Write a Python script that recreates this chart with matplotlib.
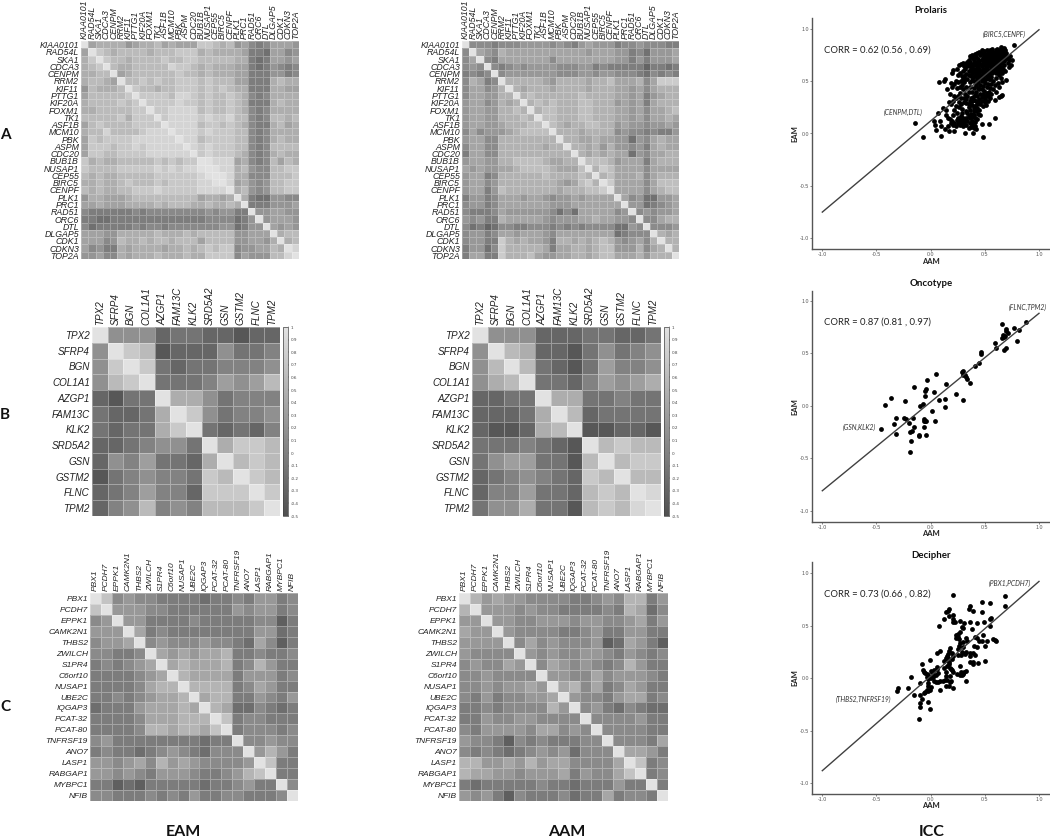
import matplotlib
matplotlib.use("Agg")
import matplotlib.pyplot as plt
import numpy as np
from matplotlib.colors import LinearSegmentedColormap

W, H = 1050, 838

genes_a = ["KIAA0101","RAD54L","SKA1","CDCA3","CENPM","RRM2","KIF11","PTTG1","KIF20A","FOXM1","TK1","ASF1B","MCM10","PBK","ASPM","CDC20","BUB1B","NUSAP1","CEP55","BIRC5","CENPF","PLK1","PRC1","RAD51","ORC6","DTL","DLGAP5","CDK1","CDKN3","TOP2A"]
genes_b = ["TPX2","SFRP4","BGN","COL1A1","AZGP1","FAM13C","KLK2","SRD5A2","GSN","GSTM2","FLNC","TPM2"]
genes_c = ["PBX1","PCDH7","EPPK1","CAMK2N1","THBS2","ZWILCH","S1PR4","C6orf10","NUSAP1","UBE2C","IQGAP3","PCAT-32","PCAT-80","TNFRSF19","ANO7","LASP1","RABGAP1","MYBPC1","NFIB"]

# Upper triangles of the correlation matrices, read as shade levels 0 (dark) to 9 (light)
a_eam = ["4555534556 4544477656 342124443","765666656 6677756555 541104423","76656666 7667766666 551014434","6556666 6877656555 441013212","456666 6676656555 441113312","66767 6677767666 441115655","7665 6677767676 551115544","777 7688767667 652125555","77 7787767667 651115655","7 7888867667 652125555","7888878778 662126656","888867767 652115645","88878777 662125555","8867777 662125655","878777 662126666","78777 652125655","9888 452126465","988 563226677","98 552226667","8 453236677","563236677","51003322","1113334","334433","34443","4343","566","56","8"]
a_aam = ["3332333444 4343245444 233433322","543655555 5555554555 442314445","32555555 5355555555 442424445","3234344 4433344232 222202212","344444 4433344344 333213232","66666 5466665667 555635888","6566 6566665666 554535666","676 6666676666 554524566","67 6766677666 454525666","6 7766677666 554535567","7766677666 554535565","765667766 454434454","66656666 343323224","6655655 441435655","665646 443425655","65656 551435566","7776 455525666","687 555535555","67 555635666","8 555535777","555535677","53411445","4412345","343445","33566","3334","656","66","6"]
b_eam = ["44412211011","8701114223","821223334","22235457","6642333","842334","21213","6887","787","87","8"]
b_aam = ["44411122112","7611024234","721025334","22135456","6622322","712222","00110","7877","788","77","9"]
c_eam = ["734332222122324423","44433222222434423","4422223222223302","523222222224412","34333433215302","5454556223223","565556236422","65555244423","6666235422","566224324","65113212","7233222","233323","33433","4642","722","22","3"]
c_aam = ["645443333223436624","44434332222326513","4433444344334524","433332234224422","35343334015420","4343344324323","354343236422","44335344432","5635235422","433245523","34213211","3333422","333322","33325","5542","723","23","2"]

# Scatter points
prolaris = [(-0.14,0.10),(-0.075,-0.03),(0.03,0.12),(0.04,0.08),(0.05,0.03),(0.10,-0.02),(0.09,0.12),(0.10,0.07),(0.13,0.04),(0.17,0.02),(0.215,0.02),(0.16,0.07),(0.19,0.10),(0.21,0.08),(0.23,0.07),(0.25,0.10),(0.32,0.0),(0.33,0.08),(0.36,0.10),(0.35,0.05),(0.39,0.0),(0.40,0.05),(0.41,0.07),(0.47,0.09),(0.48,-0.03),(0.54,0.09),(0.59,0.15),(0.07,0.20),(0.11,0.24),(0.14,0.22),(0.14,0.18),(0.16,0.15),(0.18,0.14),(0.21,0.18),(0.24,0.20),(0.20,0.12),(0.24,0.13),(0.27,0.14),(0.30,0.15),(0.27,0.12),(0.29,0.12),(0.31,0.11),(0.33,0.15),(0.36,0.15),(0.38,0.16),(0.41,0.15),(0.43,0.14),(0.46,0.18),(0.38,0.12),(0.41,0.11),(0.44,0.19),(0.40,0.21),(0.36,0.22),(0.29,0.20),(0.29,0.23),(0.35,0.25),(0.40,0.24),(0.45,0.22),(0.48,0.26),(0.50,0.30),(0.46,0.28),(0.43,0.28),(0.38,0.27),(0.35,0.28),(0.36,0.31),(0.33,0.29),(0.26,0.30),(0.19,0.28),(0.17,0.30),(0.21,0.31),(0.23,0.34),(0.25,0.36),(0.28,0.34),(0.31,0.34),(0.37,0.34),(0.40,0.32),(0.42,0.31),(0.45,0.33),(0.47,0.35),(0.50,0.33),(0.53,0.36),(0.56,0.38),(0.52,0.39),(0.59,0.32),(0.63,0.35),(0.66,0.37),(0.65,0.36),(0.70,0.51),(0.74,0.65),(0.75,0.70),(0.77,0.84),(0.73,0.74),
(0.08,0.49),(0.12,0.50),(0.13,0.52),(0.15,0.42),(0.19,0.48),(0.20,0.44),(0.20,0.58),(0.21,0.61),(0.23,0.50),(0.25,0.49),(0.27,0.44),(0.24,0.43),(0.29,0.46),(0.31,0.49),(0.33,0.44),(0.32,0.38),(0.35,0.40),(0.38,0.40),(0.40,0.43),(0.42,0.40),(0.45,0.42),(0.48,0.45),(0.52,0.44),(0.56,0.47),(0.59,0.46),(0.62,0.48),(0.66,0.49),(0.26,0.65),(0.28,0.66),(0.30,0.67),(0.27,0.58),(0.29,0.55),(0.30,0.60),(0.32,0.62),(0.34,0.64),(0.36,0.68),(0.37,0.73),(0.38,0.75),(0.35,0.70),(0.33,0.57),(0.34,0.52),(0.36,0.49),(0.37,0.55),(0.38,0.58),(0.40,0.62),(0.39,0.66),(0.41,0.68),(0.42,0.65),(0.43,0.60),(0.41,0.55),(0.40,0.50),(0.43,0.52),(0.45,0.56),(0.44,0.49),(0.46,0.46),(0.47,0.50),(0.48,0.54),(0.46,0.60),(0.47,0.64),(0.45,0.69),(0.46,0.75),(0.48,0.72),(0.49,0.68),(0.50,0.62),(0.50,0.57),(0.51,0.52),(0.50,0.48),(0.53,0.47),(0.54,0.52),(0.53,0.58),(0.52,0.63),(0.53,0.68),(0.51,0.73),(0.50,0.76),(0.52,0.80),(0.55,0.80),(0.54,0.76),(0.55,0.72),(0.56,0.68),(0.56,0.63),(0.57,0.58),(0.56,0.54),(0.58,0.50),(0.60,0.53),(0.60,0.58),(0.59,0.62),(0.58,0.66),(0.59,0.70),(0.58,0.74),(0.58,0.78),(0.60,0.76),(0.62,0.80),(0.61,0.73),(0.62,0.69),(0.62,0.65),(0.63,0.60),(0.63,0.56),(0.65,0.53),(0.66,0.58),(0.65,0.63),(0.65,0.67),(0.65,0.71),(0.65,0.75),(0.65,0.83),(0.68,0.82),(0.67,0.78),(0.68,0.74),(0.68,0.69),(0.68,0.65),(0.69,0.60),(0.71,0.67),(0.71,0.72),(0.70,0.77),(0.47,0.70),(0.49,0.74),(0.52,0.76),(0.52,0.70),(0.54,0.66),(0.55,0.60),(0.57,0.71),(0.57,0.75),(0.60,0.67),(0.60,0.72),(0.63,0.72),(0.63,0.77),(0.64,0.79),(0.61,0.62),(0.44,0.71),(0.42,0.73),(0.40,0.70),(0.37,0.62),(0.31,0.55),(0.28,0.50),(0.22,0.47),(0.18,0.38),(0.22,0.36),(0.27,0.39),(0.30,0.42),(0.36,0.44),(0.42,0.46),(0.49,0.41),(0.55,0.43),(0.46,0.38),(0.51,0.36),(0.39,0.35),(0.33,0.33),(0.43,0.36),(0.55,0.52),(0.57,0.64),(0.49,0.60),(0.44,0.63),(0.41,0.59),(0.35,0.60),(0.33,0.66),(0.38,0.51),(0.25,0.56),(0.24,0.62),
(0.44,0.58),(0.45,0.62),(0.46,0.66),(0.48,0.58),(0.48,0.62),(0.48,0.66),(0.50,0.65),(0.50,0.70),(0.51,0.60),(0.51,0.67),(0.53,0.61),(0.53,0.65),(0.53,0.71),(0.54,0.74),(0.54,0.78),(0.56,0.78),(0.56,0.74),(0.56,0.70),(0.56,0.66),(0.57,0.61),(0.58,0.69),(0.58,0.72),(0.58,0.60),(0.59,0.65),(0.59,0.76),(0.60,0.80),(0.60,0.64),(0.61,0.69),(0.61,0.77),(0.62,0.74),(0.62,0.60),(0.63,0.67),(0.63,0.63),(0.64,0.70),(0.64,0.74),(0.64,0.60),(0.66,0.69),(0.66,0.73),(0.66,0.77),(0.67,0.62),(0.67,0.71),(0.69,0.71),(0.69,0.76),(0.69,0.80),(0.72,0.70),(0.72,0.63),(0.47,0.56),(0.46,0.53),(0.49,0.51),(0.52,0.55),(0.54,0.56),(0.43,0.67),(0.42,0.62),(0.42,0.57),(0.40,0.66),(0.39,0.61),(0.38,0.63),(0.36,0.64),(0.35,0.66),(0.34,0.68),(0.32,0.66),(0.31,0.64),(0.30,0.52),(0.32,0.52),(0.35,0.56),(0.39,0.54),(0.44,0.55),(0.36,0.74),(0.39,0.72),(0.41,0.76),(0.43,0.77),(0.45,0.78),(0.49,0.79),(0.47,0.77),(0.47,0.80),(0.57,0.81),(0.61,0.81),(0.66,0.81),
(0.22,0.10),(0.25,0.15),(0.28,0.17),(0.30,0.10),(0.32,0.13),(0.34,0.12),(0.35,0.17),(0.37,0.19),(0.39,0.18),(0.40,0.18),(0.42,0.21),(0.43,0.24),(0.41,0.26),(0.44,0.30),(0.47,0.31),(0.49,0.36),(0.48,0.38),(0.47,0.42),(0.44,0.43),(0.41,0.37),(0.38,0.31),(0.34,0.36),(0.31,0.30),(0.28,0.28),(0.26,0.25),(0.23,0.26),(0.22,0.22),(0.51,0.27),(0.53,0.31),(0.55,0.34),(0.54,0.40),(0.58,0.42),(0.60,0.40),(0.63,0.44),(0.34,0.20),(0.33,0.21),(0.37,0.06),(0.42,0.04),(0.38,0.09),(0.30,0.07),(0.27,0.08)]

oncotype = [(0.88,0.80),(0.82,0.72),(0.77,0.74),(0.80,0.62),(0.66,0.78),(0.70,0.73),(0.70,0.71),(0.71,0.69),(0.67,0.67),(0.66,0.64),(0.68,0.65),(0.69,0.66),(0.70,0.55),(0.675,0.53),(0.595,0.60),(0.60,0.55),(0.465,0.51),(0.465,0.49),(0.45,0.41),(0.41,0.38),(0.29,0.32),(0.30,0.33),(0.30,0.29),(0.32,0.29),(0.33,0.27),(0.335,0.25),(0.36,0.22),(0.30,0.05),(0.235,0.11),(0.14,0.21),(0.05,0.30),(-0.03,0.24),(-0.15,0.18),(-0.045,0.16),(-0.05,0.14),(-0.05,0.09),(0.035,0.13),(0.08,0.05),(0.13,0.06),(0.135,-0.01),(-0.37,0.07),(-0.42,0.01),(-0.24,0.04),(-0.10,0.0),(-0.07,0.02),(0.01,-0.05),(-0.32,-0.12),(-0.25,-0.12),(-0.23,-0.13),(-0.16,-0.12),(-0.06,-0.13),(-0.05,-0.15),(-0.06,-0.15),(-0.045,-0.15),(0.04,-0.15),(-0.34,-0.17),(-0.20,-0.165),(-0.46,-0.225),(-0.15,-0.20),(-0.065,-0.20),(-0.32,-0.27),(-0.19,-0.25),(-0.175,-0.24),(-0.11,-0.28),(-0.11,-0.29),(-0.04,-0.28),(-0.18,-0.34),(-0.195,-0.44)]

decipher = [(0.21,0.79),(0.69,0.78),(0.69,0.69),(0.47,0.725),(0.55,0.71),(0.36,0.685),(0.35,0.66),(0.39,0.635),(0.47,0.625),(0.17,0.66),(0.16,0.64),(0.14,0.63),(0.205,0.60),(0.17,0.59),(0.12,0.565),(0.205,0.56),(0.21,0.53),(0.225,0.53),(0.08,0.50),(0.27,0.545),(0.36,0.535),(0.31,0.52),(0.29,0.49),(0.43,0.52),(0.49,0.53),(0.55,0.565),(0.56,0.57),(0.55,0.50),(0.38,0.47),(0.30,0.48),(0.27,0.44),(0.25,0.42),(0.24,0.40),(0.23,0.41),(0.23,0.38),(0.25,0.39),(0.26,0.37),(0.33,0.38),(0.34,0.35),(0.30,0.34),(0.27,0.33),(0.26,0.31),(0.25,0.28),(0.30,0.30),(0.41,0.39),(0.43,0.38),(0.48,0.41),(0.45,0.35),(0.47,0.35),(0.52,0.355),(0.40,0.31),(0.43,0.30),(0.50,0.31),(0.58,0.37),(0.59,0.365),(0.60,0.355),(0.33,0.25),(0.36,0.24),(0.39,0.235),(0.41,0.22),(0.36,0.21),(0.28,0.22),(0.25,0.22),(0.29,0.25),(0.32,0.23),(0.18,0.29),(0.17,0.26),(0.20,0.24),(0.16,0.23),(0.15,0.21),(0.21,0.21),(0.14,0.19),(0.12,0.16),(0.14,0.17),(0.16,0.19),(0.17,0.15),(0.20,0.18),(0.09,0.26),(0.06,0.24),(-0.01,0.175),(0.36,0.155),(0.39,0.15),(0.39,0.13),(0.44,0.145),(0.50,0.16),(0.15,0.12),(0.17,0.13),(0.12,0.10),(0.14,0.06),(0.18,0.10),(0.19,0.09),(0.2,0.08),(0.21,0.06),(0.27,0.12),(0.28,0.06),(0.30,0.05),(0.33,0.07),(0.31,0.06),(0.24,0.04),(0.27,0.03),(0.29,0.03),(0.30,0.04),(0.33,-0.03),(0.18,0.02),(0.14,0.02),(-0.08,0.13),(-0.075,0.08),(-0.06,0.06),(-0.05,0.05),(-0.03,0.04),(-0.02,0.03),(0.0,0.07),(0.01,0.06),(0.03,0.08),(0.06,0.09),(0.06,0.11),(0.03,0.03),(0.05,0.03),(0.07,0.05),(-0.03,0.01),(-0.02,-0.01),(0.0,0.0),(0.02,0.01),(-0.18,0.01),(-0.02,-0.05),(0.03,-0.03),(0.05,-0.04),(0.07,-0.04),(0.09,-0.03),(0.11,-0.03),(0.13,-0.02),(0.15,-0.02),(0.14,-0.07),(0.17,-0.07),(0.18,-0.04),(0.19,-0.03),(0.21,-0.09),(0.09,-0.115),(-0.10,-0.05),(-0.02,-0.07),(0.0,-0.08),(-0.3,-0.09),(-0.21,-0.09),(-0.31,-0.12),(-0.03,-0.11),(-0.02,-0.12),(-0.01,-0.11),(-0.05,-0.13),(-0.06,-0.14),(-0.15,-0.165),(-0.1,-0.16),(-0.08,-0.2),(-0.02,-0.23),(-0.10,-0.24),(-0.095,-0.27),(-0.01,-0.29),(-0.105,-0.39)]

cbar_ticks = [1,0.9,0.8,0.7,0.6,0.5,0.4,0.3,0.2,0.1,0,-0.1,-0.2,-0.3,-0.4,-0.5]
axis_ticks = [-1.0,-0.5,0.0,0.5,1.0]

GRAY = LinearSegmentedColormap.from_list("g", ["#505050", "#e2e2e2"])
SANS = "Liberation Sans"
CAL = "Lato"

fig = plt.figure(figsize=(W/100, H/100), dpi=100, facecolor="white")


def box(l, t, r, b):
    return fig.add_axes([l/W, 1-b/H, (r-l)/W, (b-t)/H])


def to_matrix(rows, n, base, step):
    m = np.eye(n)
    for i, s in enumerate(rows):
        digits = "".join(s.split())
        if len(digits) != n-1-i:
            raise ValueError(f"row {i}: {len(digits)} != {n-1-i}")
        for j, d in enumerate(digits):
            m[i, i+1+j] = m[i+1+j, i] = base + step*int(d)
    return m


def heat(rows, genes, l, t, r, b, fs, scale, lw, alpha, cbar=None):
    ax = box(l, t, r, b)
    n = len(genes)
    m = to_matrix(rows, n, *scale)
    mesh = ax.pcolormesh(np.arange(n+1), np.arange(n+1), m, cmap=GRAY, vmin=-0.5, vmax=1,
                         edgecolors=(1, 1, 1, alpha), linewidth=lw)
    ax.set_xlim(0, n)
    ax.set_ylim(n, 0)
    ax.xaxis.tick_top()
    ax.set_xticks(np.arange(n)+0.5, genes, rotation=90, fontsize=fs, style="italic",
                  family=SANS, color="#222222")
    ax.set_yticks(np.arange(n)+0.5, genes, fontsize=fs, style="italic", family=SANS, color="#222222")
    ax.tick_params(length=0, pad=1.5)
    for s in ax.spines.values():
        s.set_visible(False)
    if cbar:
        cax = box(*cbar)
        cb = fig.colorbar(mesh, cax=cax)
        cb.set_ticks(cbar_ticks, labels=[str(v) for v in cbar_ticks])
        cb.ax.tick_params(labelsize=3, length=1, width=0.3, pad=0.8, colors="#444444")
        cb.outline.set_linewidth(0.5)
        cb.outline.set_edgecolor("#444444")


def scatter(points, title, corr, line, notes, y1, ym1, top, bot, title_y, xlab_y):
    x_m1, x_1, left, right = 822.3, 1039.0, 812.0, 1050.0
    ax = box(left, top, right, bot)
    ux = (x_1-x_m1)/2
    uy = (ym1-y1)/2
    ax.set_xlim(-1-(x_m1-left)/ux, 1+(right-x_1)/ux)
    ax.set_ylim(-1-(bot-ym1)/uy, 1+(y1-top)/uy)
    ax.patch.set_alpha(0)
    pts = np.array(points)
    ax.plot([-1, 1], line, color="#404040", lw=1.0, zorder=3)
    ax.scatter(pts[:, 0], pts[:, 1], s=12, color="black", lw=0, zorder=2)
    for s in ("top", "right"):
        ax.spines[s].set_visible(False)
    for s in ("left", "bottom"):
        ax.spines[s].set_color("#555555")
        ax.spines[s].set_linewidth(1.0)
    ax.set_xticks(axis_ticks, [f"{v:.1f}" for v in axis_ticks])
    ax.set_yticks(axis_ticks, [f"{v:.1f}" for v in axis_ticks])
    ax.tick_params(labelsize=3.8, length=1.2, width=0.5, pad=1.0, colors="#555555")
    for lab in ax.get_xticklabels()+ax.get_yticklabels():
        lab.set_family(SANS)
    ax.text(-0.985, 0.80, corr, fontsize=6.8, family=CAL, color="#222222", va="center", ha="left")
    for txt, x, y in notes:
        ax.text(x, y, txt, fontsize=4.9, family=CAL, style="italic", color="#333333", ha="center", va="center")
    fig.text(930.7/W, 1-title_y/H, title, fontsize=6.9, weight="bold", family=CAL, ha="center", va="center", color="#111111")
    fig.text(930.7/W, 1-xlab_y/H, "AAM", fontsize=5.5, weight="bold", family=CAL, ha="center", va="center", color="#222222")
    fig.text(795/W, 1-(top+bot)/2/H, "EAM", fontsize=5.5, weight="bold", family=CAL, rotation=90, ha="center", va="center", color="#222222")


heat(a_eam, genes_a, 81, 41, 299, 259, 6.3, (-0.17, 0.128), 0.5, 0.25)
heat(a_aam, genes_a, 462, 41, 679, 259, 6.3, (-0.29, 0.133), 0.5, 0.25)
heat(b_eam, genes_b, 92, 327, 280, 516, 7.1, (-0.42, 0.145), 0.7, 0.35, (283, 327, 288, 516))
heat(b_aam, genes_b, 472, 327, 661, 516, 7.1, (-0.42, 0.145), 0.7, 0.35, (664, 327, 669, 516))
heat(c_eam, genes_c, 90, 593, 298, 801, 6.0, (-0.34, 0.145), 0.6, 0.3)
heat(c_aam, genes_c, 459, 593, 668, 801, 6.0, (-0.34, 0.145), 0.6, 0.3)

scatter(prolaris, "Prolaris", "CORR = 0.62 (0.56 , 0.69)", [-0.75, 0.99],
        [("(BIRC5,CENPF)", 0.68, 0.95), ("(CENPM,DTL)", -0.255, 0.20)], 28.7, 238.3, 18, 249, 10.7, 261)
scatter(oncotype, "Oncotype", "CORR = 0.87 (0.81 , 0.97)", [-0.81, 0.88],
        [("(FLNC,TPM2)", 0.90, 0.94), ("(GSN,KLK2)", -0.66, -0.207)], 300.7, 510.7, 291, 521.7, 283, 533.5)
scatter(decipher, "Decipher", "CORR = 0.73 (0.66 , 0.82)", [-0.88, 0.92],
        [("(PBX1,PCDH7)", 0.73, 0.90), ("(THBS2,TNFRSF19)", -0.62, -0.20)], 573, 783.3, 562, 793.7, 555, 805.5)

for txt, y in (("A", 135), ("B", 415), ("C", 707)):
    fig.text(5/W, 1-y/H, txt, fontsize=11, weight="bold", family=CAL, ha="center", va="center", color="#111111")
for txt, x in (("EAM", 183), ("AAM", 567), ("ICC", 932)):
    fig.text(x/W, 1-832/H, txt, fontsize=11.5, weight="bold", family=CAL, ha="center", va="center", color="#111111")

fig.savefig("out.png", dpi=100)
